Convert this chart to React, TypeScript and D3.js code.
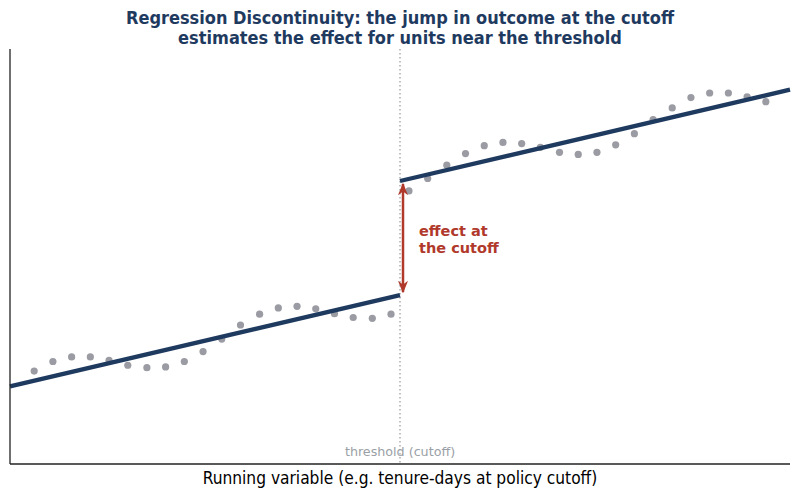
import React from 'react';
import * as d3 from 'd3';

// binned running variable (centred on the cutoff at 0) and mean outcome per bin
const leftX = [-0.938, -0.89, -0.842, -0.794, -0.746, -0.698, -0.649, -0.601, -0.553, -0.505,
  -0.457, -0.409, -0.36, -0.312, -0.264, -0.216, -0.168, -0.12, -0.071, -0.023];
const leftY = [2.24, 2.47, 2.58, 2.58, 2.5, 2.38, 2.32, 2.34, 2.47, 2.71,
  3.01, 3.35, 3.61, 3.76, 3.8, 3.74, 3.62, 3.53, 3.51, 3.61];
const rightX = [0.023, 0.071, 0.12, 0.168, 0.216, 0.264, 0.312, 0.36, 0.409, 0.457,
  0.505, 0.553, 0.601, 0.649, 0.698, 0.746, 0.794, 0.842, 0.89, 0.938];
const rightY = [6.58, 6.88, 7.2, 7.48, 7.67, 7.75, 7.72, 7.63, 7.51, 7.46,
  7.51, 7.69, 7.96, 8.3, 8.58, 8.83, 8.94, 8.94, 8.85, 8.73];

// local linear fits on each side of the cutoff
const leftFit = [{ x: -1, y: 1.87 }, { x: 0, y: 4.07 }];
const rightFit = [{ x: 0, y: 6.82 }, { x: 1, y: 9.02 }];

const cutoff = 0;
const titleLines = [
  'Regression Discontinuity: the jump in outcome at the cutoff',
  'estimates the effect for units near the threshold',
];
const effectLabel = ['effect at', 'the cutoff'];

const W = 800;
const H = 496;
const margin = { top: 49, right: 10, bottom: 32, left: 10 };

const navy = '#1f3a5f';
const red = '#b0392b';

export default function App() {
  const x = d3.scaleLinear().domain([-1, 1]).range([margin.left, W - margin.right]);
  const y = d3.scaleLinear().domain([0, 10]).range([H - margin.bottom, margin.top]);

  const line = d3.line<{ x: number; y: number }>()
    .x(d => x(d.x))
    .y(d => y(d.y));

  const points = [
    ...leftX.map((v, i) => ({ x: v, y: leftY[i] })),
    ...rightX.map((v, i) => ({ x: v, y: rightY[i] })),
  ];

  const jumpLo = leftFit[1].y;
  const jumpHi = rightFit[0].y;
  const ax = x(cutoff) + 3;

  return (
    <svg width={W} height={H} style={{ position: 'absolute', left: 0, top: 0 }}
      fontFamily="DejaVu Sans, sans-serif">
      <defs>
        <marker id="ah" viewBox="0 0 10 10" refX="9" refY="5" markerWidth="5" markerHeight="5"
          orient="auto-start-reverse">
          <path d="M0,1 L10,5 L0,9 L3,5 z" fill={red} />
        </marker>
      </defs>

      {titleLines.map((t, i) => (
        <text key={i} x={W / 2} y={24 + i * 19.5} textAnchor="middle" fontSize={18}
          fontWeight="bold" fill={navy} fontFamily="DejaVu Sans Condensed, DejaVu Sans">{t}</text>
      ))}

      {/* cutoff */}
      <line x1={x(cutoff)} x2={x(cutoff)} y1={margin.top} y2={H - margin.bottom}
        stroke="#999" strokeWidth={1.2} strokeDasharray="1.5,2.5" />

      {points.map((p, i) => (
        <circle key={i} cx={x(p.x)} cy={y(p.y)} r={3.6} fill="#9a9ba3" />
      ))}

      <path d={line(leftFit) ?? ''} fill="none" stroke={navy} strokeWidth={4.3} />
      <path d={line(rightFit) ?? ''} fill="none" stroke={navy} strokeWidth={4.3} />

      <line x1={ax} x2={ax} y1={y(jumpLo) - 3} y2={y(jumpHi) + 3} stroke={red} strokeWidth={2.5}
        markerStart="url(#ah)" markerEnd="url(#ah)" />
      {effectLabel.map((t, i) => (
        <text key={i} x={x(cutoff) + 19} y={236 + i * 16.5} fontSize={14.5} fontWeight="bold"
          fill={red}>{t}</text>
      ))}

      <text x={x(cutoff)} y={456} textAnchor="middle" fontSize={12.7} fill="#9aa0a6">threshold (cutoff)</text>

      {/* spines */}
      <line x1={margin.left} x2={margin.left} y1={margin.top} y2={H - margin.bottom}
        stroke="#222" strokeWidth={1.3} />
      <line x1={margin.left} x2={W - margin.right} y1={H - margin.bottom} y2={H - margin.bottom}
        stroke="#222" strokeWidth={1.3} />

      <text x={W / 2} y={484} textAnchor="middle" fontSize={17.2} fill="#000"
        fontFamily="DejaVu Sans Condensed, DejaVu Sans">Running variable (e.g. tenure-days at policy cutoff)</text>
    </svg>
  );
}
